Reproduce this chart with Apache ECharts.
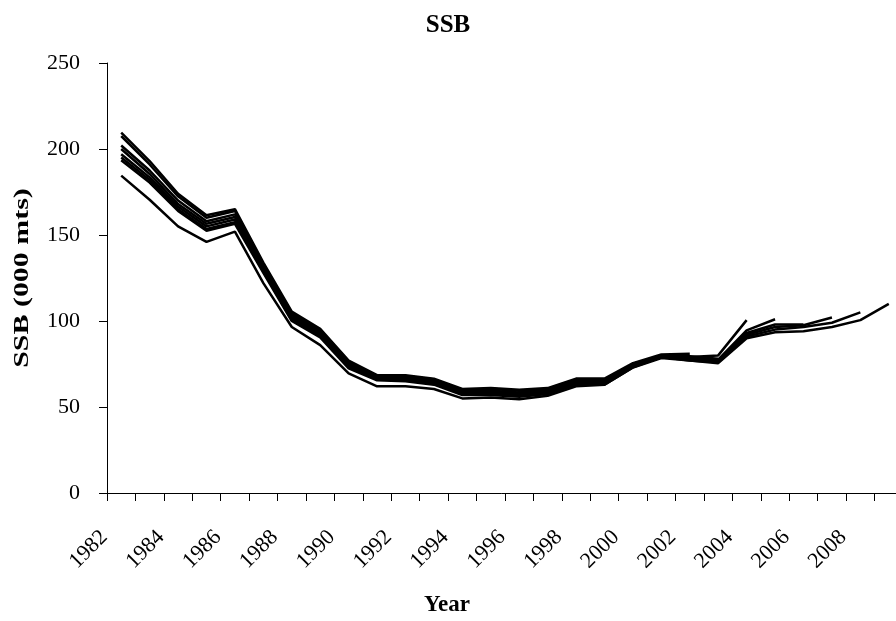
<!DOCTYPE html>
<html>
<head>
<meta charset="utf-8">
<script src="https://cdn.jsdelivr.net/npm/echarts@6/dist/echarts.min.js"></script>
<style>
  html, body { margin: 0; padding: 0; background: #ffffff; }
  #chart { width: 896px; height: 621px; }
</style>
</head>
<body>
<div id="chart"></div>
<script>
// Assessment years on the x axis
const years = [1982,1983,1984,1985,1986,1987,1988,1989,1990,1991,1992,1993,1994,1995,
               1996,1997,1998,1999,2000,2001,2002,2003,2004,2005,2006,2007,2008,2009];

// Year labels printed under the axis
const yearLabels = ['1982','1984','1986','1988','1990','1992','1994','1996','1998',
                    '2000','2002','2004','2006','2008'];

// Y axis ticks (000 mts)
const yTicks = [0, 50, 100, 150, 200, 250];

// SSB estimates of each retrospective run, starting in 1982 and ending in its terminal year
const ssb2002 = [209.5,193,174,161.5,165,134,105.5,95.5,77,68.5,68.5,66.5,60.5,61,60,61,66.5,66.5,75.5,80.5,81];
const ssb2003 = [207.5,191,172.5,160,164,133,104.5,94.5,76.5,68,68,66,60,60.5,59.5,60.5,66,66,75,80,79.5,78];
const ssb2004 = [202,187.5,170,158,162,132,103.5,93.5,75.5,67.5,67.5,65.5,59.5,59.5,58.5,60,65.5,65.5,75,80,79,80,100.5];
const ssb2005 = [200,185.5,168,156.5,160.5,131,102.5,92.5,75,67,66.5,65,58.5,59,58,59,65,65,74.5,79.5,78.5,77.5,94.5,101];
const ssb2006 = [197,183.5,166.5,155,159,130,101.5,92,74,66.5,66,64.5,58,58.5,57,58.5,64,64,74,79,78,77,93,98,98];
const ssb2007 = [195,182,165,153.5,157.5,129,100.5,91,73.5,66,65.5,63.5,57.5,57.5,56.5,58,63.5,63.5,73.5,79,77.5,76.5,92,96.5,97.5,102];
const ssb2008 = [193.5,180.5,164,152.5,156.5,128,100,90.5,72.5,65.5,65,63,57,57,56,57.5,63,63,73,78.5,77,76,91,95,96.5,99,105];
const ssb2009 = [184.5,170.5,155,146,152,122,96.5,86,69.5,62,62,60.5,55,55.5,54.5,56.5,62,63,73,79,77,75.5,90,93.5,94,96.5,100.5,110];

const runs = [
  ['2002', ssb2002], ['2003', ssb2003], ['2004', ssb2004], ['2005', ssb2005],
  ['2006', ssb2006], ['2007', ssb2007], ['2008', ssb2008], ['2009', ssb2009]
];

const serif = "'Liberation Serif', 'Times New Roman', serif";

const chart = echarts.init(document.getElementById('chart'), null, { renderer: 'canvas' });

chart.setOption({
  animation: false,
  backgroundColor: '#ffffff',
  title: {
    text: 'SSB',
    left: 'center',
    top: 8,
    textStyle: { fontFamily: serif, fontWeight: 'bold', fontSize: 25, color: '#000' }
  },
  // the last year slot runs past the right edge of the canvas
  grid: { left: 107, top: 63, bottom: 128, right: -7, outerBoundsMode: 'none' },
  xAxis: {
    type: 'value',
    min: years[0] - 0.5,
    max: years[years.length - 1] + 0.5,
    interval: 1,
    name: 'Year',
    nameLocation: 'middle',
    nameGap: 101,
    // right padding pulls the centred name back to the middle of the page
    nameTextStyle: { fontFamily: serif, fontWeight: 'bold', fontSize: 23, color: '#000', padding: [0, 116, 0, 0] },
    axisLine: { lineStyle: { color: '#000', width: 1 } },
    axisTick: { show: true, length: 8, lineStyle: { color: '#000' } },
    splitLine: { show: false },
    axisLabel: {
      rotate: 45,
      margin: 38,
      padding: [0, 4, 0, 0],
      fontFamily: serif,
      fontSize: 22,
      color: '#000',
      // each label sits on the left edge of its year slot
      formatter: function (v) {
        const s = String(Math.round(v + 0.5));
        return yearLabels.indexOf(s) >= 0 ? s : '';
      }
    }
  },
  yAxis: {
    type: 'value',
    min: yTicks[0],
    max: yTicks[yTicks.length - 1],
    interval: yTicks[1] - yTicks[0],
    axisLine: { show: true, lineStyle: { color: '#000', width: 1 } },
    axisTick: { show: true, length: 8, lineStyle: { color: '#000' } },
    splitLine: { show: false },
    axisLabel: { margin: 27, fontFamily: serif, fontSize: 22, color: '#000' }
  },
  graphic: [{
    type: 'text',
    x: 22,
    y: 278,
    rotation: Math.PI / 2,
    scaleX: 1.36,
    style: {
      text: 'SSB (000 mts)',
      font: 'bold 22px ' + serif,
      fill: '#000',
      align: 'center',
      verticalAlign: 'middle'
    }
  }],
  series: runs.map(function (r) {
    return {
      name: r[0],
      type: 'line',
      showSymbol: false,
      symbol: 'none',
      lineStyle: { color: '#000', width: 2.5 },
      data: r[1].map(function (v, i) { return [years[i], v]; })
    };
  })
});
</script>
</body>
</html>
